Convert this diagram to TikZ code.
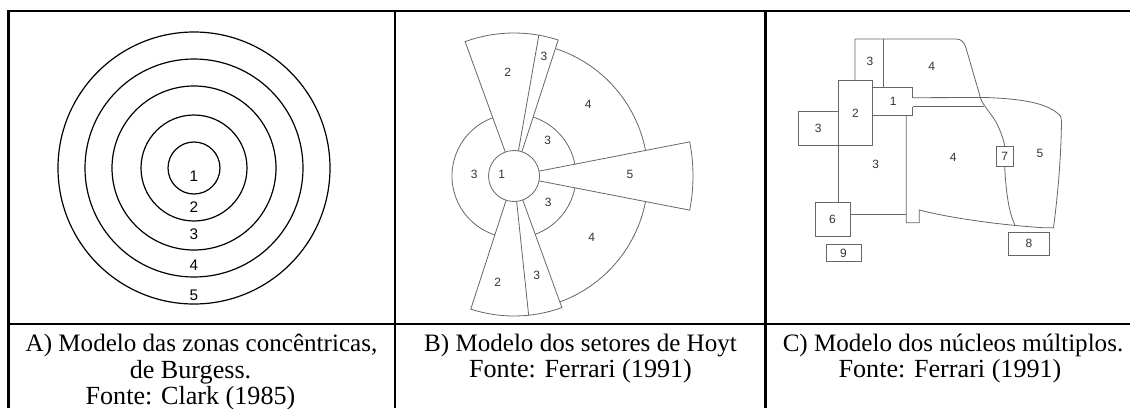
\documentclass[tikz,border=0pt]{standalone}
\usepackage{fontspec}
\setmainfont{Liberation Serif}
\newfontfamily\digitfont{Liberation Sans}
\usetikzlibrary{calc}

\begin{document}
\begin{tikzpicture}[
  x=0.75pt, y=0.75pt,
  frame/.style={line width=1.6pt},
  ring/.style={line width=0.9pt},
  sketch/.style={draw=black!60, line width=0.6pt},
  num/.style={font=\digitfont\fontsize{11.5}{12}\selectfont, inner sep=0pt},
  tag/.style={font=\digitfont\fontsize{9}{10}\selectfont, text=black!80, inner sep=0pt},
  plotbox/.style={sketch, tag},
  capfirst/.style={anchor=base, inner sep=0pt, font=\fontsize{18.8}{22}\selectfont},
  capline/.style={anchor=base, inner sep=0pt, font=\fontsize{19.6}{22}\selectfont},
]

\useasboundingbox (0,0) rectangle (1130,408);

% table
\draw[frame] (8.5,0) -- (8.5,397) -- (1130,397);
\draw[frame] (8.5,84) -- (1130,84);
\draw[frame] (395,397) -- (395,0);
\draw[frame] (765.5,397) -- (765.5,0);

% A) concentric zones
\coordinate (cA) at (194,240);
\foreach \r in {26,53,82,109,136}
  \draw[ring] (cA) circle[radius=\r];
\foreach \n/\y in {1/232,2/200.5,3/173.3,4/142.3,5/113}
  \node[num] (a\n) at (194,\y) {\n};

% B) sectors
\coordinate (cB) at (514,232);
\draw[sketch] (cB) circle[radius=25.5];
\draw[sketch] ($(cB)+(110:25.5)$) -- ($(cB)+(110:143)$) arc[start angle=110, end angle=72, radius=143] -- ($(cB)+(72:25.5)$);
\draw[sketch] ($(cB)+(80:25.5)$) -- ($(cB)+(80:143)$);
\draw[sketch] ($(cB)+(11:25.5)$) -- ($(cB)+(11:179)$) arc[start angle=11, end angle=-11, radius=179] -- ($(cB)+(-11:25.5)$);
\draw[sketch] ($(cB)+(-70:25.5)$) -- ($(cB)+(-70:140)$) arc[start angle=-70, end angle=-108, radius=140] -- ($(cB)+(-108:25.5)$);
\draw[sketch] ($(cB)+(-84:25.5)$) -- ($(cB)+(-84:140)$);
\draw[sketch] ($(cB)+(72:134)$) arc[start angle=72, end angle=11, radius=134];
\draw[sketch] ($(cB)+(-11:134)$) arc[start angle=-11, end angle=-70, radius=134];
\draw[sketch] ($(cB)+(72:62)$) arc[start angle=72, end angle=11, radius=62];
\draw[sketch] ($(cB)+(-11:62)$) arc[start angle=-11, end angle=-70, radius=62];
\draw[sketch] ($(cB)+(110:62)$) arc[start angle=110, end angle=252, radius=62];

\node[tag] (b1) at (501.7,234) {1};
\node[tag] (b2n) at (507.7,335.3) {2};
\node[tag] (b3n) at (544,351.3) {3};
\node[tag] (b4n) at (588.3,304) {4};
\node[tag] (b3ne) at (547.7,268) {3};
\node[tag] (b3w) at (474.3,234) {3};
\node[tag] (b5) at (630,234) {5};
\node[tag] (b3se) at (548.3,205.3) {3};
\node[tag] (b4s) at (591.7,170.7) {4};
\node[tag] (b2s) at (497.7,125.3) {2};
\node[tag] (b3s) at (536.7,133) {3};

% C) multiple nuclei
\node[plotbox, minimum width=25.8pt, minimum height=48.75pt] (c2) at (855.5,294.8) {2};
\node[plotbox, minimum width=30pt, minimum height=25.5pt] (c3w) at (818.3,279.3) {3};
\node[plotbox, minimum width=26.25pt, minimum height=25.8pt] (c6) at (832.5,188.5) {6};
\node[plotbox, minimum width=13pt, minimum height=15pt] (c7) at (1004.7,251.3) {7};
\node[plotbox, minimum width=30.5pt, minimum height=17.25pt] (c8) at (1029,164.2) {8};
\node[plotbox, minimum width=26.25pt, minimum height=13pt] (c9) at (843.5,155) {9};
\coordinate (wall) at (906.3,193.7);

\draw[sketch] (855,327.3) -- (855,369) -- (956,369) .. controls (962,369) and (964.5,365) .. (966,360)
  -- (980.5,310) .. controls (983,302) and (993,293) .. (998,282) .. controls (1002,273) and (1004,267) .. (c7.north);
\draw[sketch] (c7.south) .. controls (1006,215) and (1009,195) .. (1015,182.7);
\draw[sketch] (883.3,369) -- (883.3,320.7);
\draw[sketch] (912.7,310.3) -- (912.7,320.7) -- (872.7,320.7);
\draw[sketch] (912.7,301.3) -- (912.7,292.3) -- (872.7,292.3);
\draw[sketch] (912.7,301.3) -- (983.5,301.3);
\draw[sketch] (912.7,310.3) -- (985,310.5) .. controls (1030,309) and (1050,303) .. (1060.5,292) -- (1061.5,287)
  .. controls (1061,250) and (1058,215) .. (1053.5,180.3) -- (1043,180.3)
  .. controls (1000,183) and (950,190) .. (919.3,198) -- (919.3,185.3) -- (906.3,185.3) -- (906.3,292.3);
\draw[sketch] (c2.south west) -- (c2.south west |- c6.north);
\draw[sketch] (wall -| c6.east) -- (wall);

\node[tag] (c3n) at (870,347) {3};
\node[tag] (c4n) at (931.7,341.3) {4};
\node[tag] (c1) at (893.3,307) {1};
\node[tag] (c3m) at (875.7,244) {3};
\node[tag] (c4m) at (953.3,250.7) {4};
\node[tag] (c5) at (1040,254.7) {5};

% captions
\node[capfirst] (capA1) at (201.5,57) {A) Modelo das zonas concêntricas,};
\node[capline] (capA2) at (190.5,30) {de Burgess.};
\node[capline] (capA3) at (190.5,4) {Fonte: Clark (1985)};
\node[capfirst] (capB1) at (580.5,57) {B) Modelo dos setores de Hoyt};
\node[capline] (capB2) at (580.5,30.7) {Fonte: Ferrari (1991)};
\node[capfirst] (capC1) at (953,57) {C) Modelo dos núcleos múltiplos.};
\node[capline] (capC2) at (950,30.7) {Fonte: Ferrari (1991)};

\end{tikzpicture}
\end{document}
